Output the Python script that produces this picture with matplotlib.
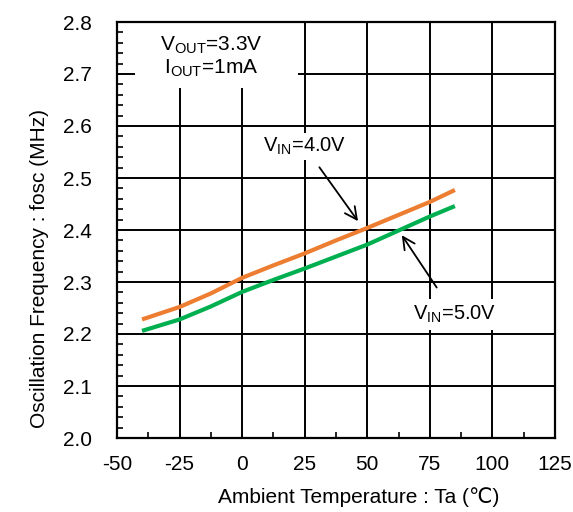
import matplotlib
matplotlib.use("Agg")
import matplotlib.pyplot as plt
from matplotlib.patches import Rectangle
from matplotlib.ticker import MultipleLocator

plt.rcParams['font.family'] = ['Liberation Sans', 'DejaVu Sans']
plt.rcParams['mathtext.fontset'] = 'custom'
plt.rcParams['mathtext.rm'] = 'Liberation Sans'

# data
temp = [-40, -25, -12.5, 0, 12.5, 25, 37.5, 50, 62.5, 75, 85]
fosc_vin40 = [2.228, 2.252, 2.278, 2.308, 2.332, 2.355, 2.380, 2.404, 2.429, 2.454, 2.477]
fosc_vin50 = [2.206, 2.228, 2.253, 2.281, 2.304, 2.326, 2.349, 2.372, 2.399, 2.426, 2.446]

xticks = [-50, -25, 0, 25, 50, 75, 100, 125]
yticks = [2.0, 2.1, 2.2, 2.3, 2.4, 2.5, 2.6, 2.7, 2.8]

fig = plt.figure(figsize=(5.73, 5.12), dpi=100)
ax = fig.add_axes([117 / 573, 1 - 438 / 512, 438 / 573, 416 / 512])

ax.plot(temp, fosc_vin40, color='#ED7D31', lw=3, solid_capstyle='butt', zorder=5)
ax.plot(temp, fosc_vin50, color='#00B050', lw=3, solid_capstyle='butt', zorder=5)

ax.set_xlim(-50, 125)
ax.set_ylim(2.0, 2.8)
ax.set_xticks(xticks)
ax.set_yticks(yticks)
ax.set_xticklabels([str(t) for t in xticks])
ax.set_yticklabels(['%.1f' % v for v in yticks])
ax.xaxis.set_minor_locator(MultipleLocator(12.5))
ax.yaxis.set_minor_locator(MultipleLocator(0.02))
ax.tick_params(which='both', direction='in', colors='black', labelsize=15)
ax.tick_params(which='major', length=0)
ax.tick_params(which='minor', length=4, width=1.2)
ax.tick_params(axis='x', pad=12)
ax.tick_params(axis='y', pad=18)
ax.grid(True, which='major', color='black', lw=1.4)
ax.set_axisbelow(False)
for s in ax.spines.values():
    s.set_linewidth(1.6)
    s.set_zorder(6)

ax.set_xlabel('Ambient Temperature : Ta (℃)', fontsize=15, labelpad=10)
ax.set_ylabel('Oscillation Frequency : fosc (MHz)', fontsize=15, labelpad=10)
ax.xaxis.label.set_x(0.552)
ax.yaxis.label.set_y(0.407)

# white box behind conditions text
box = Rectangle(((135 - 117) / 438, (438 - 88) / 416), (298 - 135) / 438, (88 - 22) / 416,
                transform=ax.transAxes, facecolor='white', edgecolor='none', zorder=3)
ax.add_patch(box)
ax.text(-12.5, 2.733, 'V$_{\\mathregular{OUT}}$=3.3V\nI$_{\\mathregular{OUT}}$=1mA',
        ha='center', va='center', fontsize=15, linespacing=1.05, zorder=4)

ax.annotate('V$_{\\mathregular{IN}}$=4.0V', xy=(46.3, 2.417), xytext=(25.0, 2.56),
            ha='center', va='center', fontsize=14.5, zorder=7,
            bbox=dict(boxstyle='square,pad=0.15', fc='white', ec='none'),
            arrowprops=dict(arrowstyle='->,head_length=0.6,head_width=0.3', color='black',
                            lw=1.3, shrinkA=6, shrinkB=0))
ax.annotate('V$_{\\mathregular{IN}}$=5.0V', xy=(63.8, 2.390), xytext=(85.0, 2.237),
            ha='center', va='center', fontsize=14.5, zorder=7,
            bbox=dict(boxstyle='square,pad=0.25', fc='white', ec='none'),
            arrowprops=dict(arrowstyle='->,head_length=0.6,head_width=0.3', color='black',
                            lw=1.3, shrinkA=10, shrinkB=0))

fig.savefig('out.png', dpi=100)
